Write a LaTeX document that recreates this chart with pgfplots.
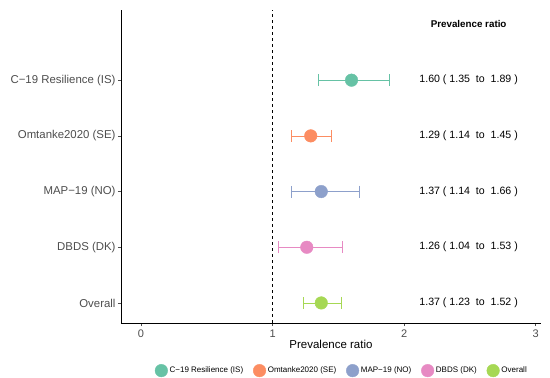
\documentclass[border=0pt]{standalone}
\usepackage{fontspec}
\setmainfont{Liberation Sans}
\usepackage{pgfplots}
\pgfplotsset{compat=1.18}
\definecolor{cA}{HTML}{66C2A5}
\definecolor{cB}{HTML}{FC8D62}
\definecolor{cC}{HTML}{8DA0CB}
\definecolor{cD}{HTML}{E78AC3}
\definecolor{cE}{HTML}{A6D854}
\definecolor{tickgrey}{HTML}{4D4D4D}
\begin{document}
\begin{tikzpicture}
\useasboundingbox (-121pt,-55pt) rectangle (429pt,323pt);
\begin{axis}[
  at={(0,0)}, anchor=south west,
  scale only axis, width=420pt, height=313pt,
  xmin=-0.152, xmax=3.04, ymin=0.64, ymax=6.26,
  axis x line*=bottom, axis y line*=left,
  axis line style={black, line width=0.6pt, -},
  xtick={0,1,2,3},
  ytick={1,2,3,4,5},
  yticklabels={Overall, DBDS (DK), MAP−19 (NO), Omtanke2020 (SE), C−19 Resilience (IS)},
  tick align=outside, major tick length=3pt,
  tick style={tickgrey, line width=0.5pt},
  ticklabel style={font=\fontsize{11}{13}\selectfont, text=tickgrey},
  yticklabel style={xshift=1pt, font=\fontsize{11.4}{13}\selectfont},
  /pgf/number format/assume math mode=true,
  xlabel={Prevalence ratio},
  xlabel style={font=\fontsize{11.5}{13}\selectfont, yshift=4pt},
  clip=false,
  legend columns=5,
  legend style={draw=none, at={(0.526,-0.125)}, anchor=north, font=\fontsize{8}{9}\selectfont,
     /tikz/every even column/.append style={column sep=8pt}},
  legend cell align=left,
]
\addplot[black, dashed, line width=0.6pt, forget plot] coordinates {(1,0.64) (1,6.26)};
\addplot[only marks, mark=*, mark size=6.3pt, color=cA,
  error bars/.cd, x dir=both, x explicit, error bar style={line width=0.6pt, color=cA}, error mark options={rotate=90, mark size=6pt, line width=0.6pt}]
  coordinates {(1.60,5) += (0.29,0) -= (0.25,0)};
\addlegendentry{C−19 Resilience (IS)}
\addplot[only marks, mark=*, mark size=6.3pt, color=cB,
  error bars/.cd, x dir=both, x explicit, error bar style={line width=0.6pt, color=cB}, error mark options={rotate=90, mark size=6pt, line width=0.6pt}]
  coordinates {(1.29,4) += (0.16,0) -= (0.15,0)};
\addlegendentry{Omtanke2020 (SE)}
\addplot[only marks, mark=*, mark size=6.3pt, color=cC,
  error bars/.cd, x dir=both, x explicit, error bar style={line width=0.6pt, color=cC}, error mark options={rotate=90, mark size=6pt, line width=0.6pt}]
  coordinates {(1.37,3) += (0.29,0) -= (0.23,0)};
\addlegendentry{MAP−19 (NO)}
\addplot[only marks, mark=*, mark size=6.3pt, color=cD,
  error bars/.cd, x dir=both, x explicit, error bar style={line width=0.6pt, color=cD}, error mark options={rotate=90, mark size=6pt, line width=0.6pt}]
  coordinates {(1.26,2) += (0.27,0) -= (0.22,0)};
\addlegendentry{DBDS (DK)}
\addplot[only marks, mark=*, mark size=6.3pt, color=cE,
  error bars/.cd, x dir=both, x explicit, error bar style={line width=0.6pt, color=cE}, error mark options={rotate=90, mark size=6pt, line width=0.6pt}]
  coordinates {(1.37,1) += (0.15,0) -= (0.14,0)};
\addlegendentry{Overall}
\node[font=\bfseries\fontsize{9.8}{11}\selectfont] at (axis cs:2.49,6.0) {Prevalence ratio};
\node[font=\fontsize{10.6}{12}\selectfont] at (axis cs:2.49,5) {1.60 ( 1.35\ \ to\ \ 1.89 )};
\node[font=\fontsize{10.6}{12}\selectfont] at (axis cs:2.49,4) {1.29 ( 1.14\ \ to\ \ 1.45 )};
\node[font=\fontsize{10.6}{12}\selectfont] at (axis cs:2.49,3) {1.37 ( 1.14\ \ to\ \ 1.66 )};
\node[font=\fontsize{10.6}{12}\selectfont] at (axis cs:2.49,2) {1.26 ( 1.04\ \ to\ \ 1.53 )};
\node[font=\fontsize{10.6}{12}\selectfont] at (axis cs:2.49,1) {1.37 ( 1.23\ \ to\ \ 1.52 )};
\end{axis}
\end{tikzpicture}
\end{document}
